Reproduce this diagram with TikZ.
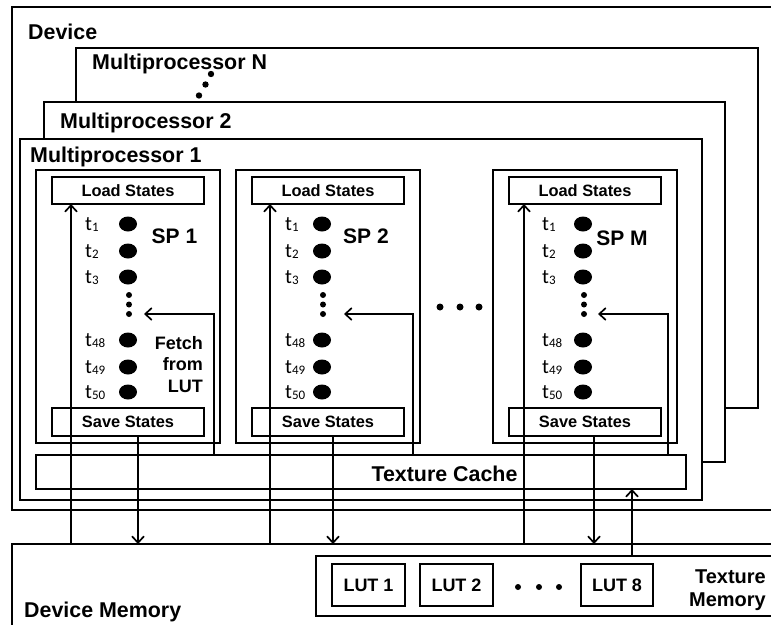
\documentclass[tikz,border=0pt]{standalone}
\usepackage{fontspec}
\setmainfont{Liberation Sans}
\newfontfamily\threadfont{Carlito}
\usetikzlibrary{arrows.meta,calc}
\newcommand\tsub[1]{\raisebox{-1.5pt}{\fontsize{13}{13}\selectfont#1}}

\begin{document}
\begin{tikzpicture}[x=1pt,y=-1pt,
  frame/.style={draw, fill=white, line width=1.8pt, inner sep=0pt, outer sep=0pt, anchor=north west},
  spbox/.style={draw, line width=1.3pt, inner sep=0pt, outer sep=0pt, anchor=north west},
  statebox/.style={draw, line width=1.1pt, inner sep=0pt, outer sep=0pt, anchor=north west,
    font=\bfseries\fontsize{16.4}{19}\selectfont},
  lutbox/.style={draw, line width=1.1pt, inner sep=0pt, outer sep=0pt, anchor=north west,
    minimum width=73pt, minimum height=42pt, font=\bfseries\fontsize{18}{21}\selectfont},
  biglabel/.style={inner sep=0pt, font=\bfseries\fontsize{21.4}{25}\selectfont},
  splabel/.style={inner sep=0pt, anchor=base, font=\bfseries\fontsize{21}{25}\selectfont},
  thread/.style={inner sep=0pt, anchor=base west, font=\threadfont\fontsize{20.5}{22}\selectfont},
  arr/.style={line width=1.8pt, -{Straight Barb[length=6.5pt,width=12pt,line width=1.7pt]}},
  dot/.style={fill=black}
]
\fill[white] (0,0) rectangle (771,624);
\clip (0,0) rectangle (771,624);

% device and the stacked multiprocessors
\node[frame, line width=2pt, minimum width=778pt, minimum height=503pt] (dev) at (12,7) {};
\node[frame, line width=1.6pt, minimum width=682pt, minimum height=360pt] (mpN) at (76,48) {};
\node[frame, line width=1.6pt, minimum width=681pt, minimum height=360pt] (mp2) at (44,102) {};
\node[frame, line width=1.6pt, minimum width=682pt, minimum height=361pt] (mp1) at (20,139) {};

\node[biglabel, anchor=base west] (devlbl) at (28,39) {Device};
\node[biglabel, anchor=base west] (mpNlbl) at (92,69) {Multiprocessor N};
\node[biglabel, anchor=base west] (mp2lbl) at (60,128) {Multiprocessor 2};
\node[biglabel, anchor=base west] (mp1lbl) at (30,162) {Multiprocessor 1};
\foreach \x/\y in {211/74, 205.5/84.5, 199/95.5}
  \fill[dot] (\x,\y) circle[radius=3.2];

% texture cache and memories
\node[spbox, line width=1.5pt, minimum width=650pt, minimum height=34pt] (tc) at (36,455) {};
\node[biglabel, anchor=base] (tclbl) at (444.5,481) {Texture Cache};
\node[frame, line width=2pt, minimum width=778pt, minimum height=100pt] (dm) at (12,544) {};
\node[biglabel, anchor=base west] (dmlbl) at (24,617) {Device Memory};
\node[frame, line width=1.6pt, minimum width=474pt, minimum height=60pt] (tm) at (316,556) {};
\node[biglabel, anchor=base east, align=right, font=\bfseries\fontsize{20}{23}\selectfont] (tmlbl) at (766,606) {Texture\\Memory};
\node[lutbox] (lut1) at (332,564) {LUT 1};
\node[lutbox] (lut2) at (420,564) {LUT 2};
\node[lutbox, minimum width=72pt] (lut8) at (581,564) {LUT 8};
\foreach \x in {518,539,559}
  \fill[dot] (\x,587) circle[radius=3];

% dots between the stream processors
\foreach \x in {440,460,479}
  \fill[dot] (\x,307) circle[radius=3.5];

% stream processors
\foreach \i/\L/\dx/\la/\sa/\fx/\fe/\lab/\lx/\ly in
  {1/36/128/71/138/214/144/SP 1/174.5/243,
   2/236/322/270/333/413/344/SP 2/366/243,
   M/493/583/524/594/668/598/SP M/622/245}
{
  \node[spbox, minimum width=184pt, minimum height=273pt] (sp\i) at (\L,170) {};
  \node[statebox, minimum width=152pt, minimum height=27pt] (ls\i) at (\L+16,177) {Load States};
  \node[statebox, minimum width=152pt, minimum height=28pt] (ss\i) at (\L+16,408) {Save States};
  \node[splabel] (splbl\i) at (\lx,\ly) {\lab};
  \foreach \y/\s in {224/1,251/2,277/3,340/48,367/49,392/50} {
    \node[thread] (t\i-\s) at (\L+49,\y+6) {t\tsub{\s}};
    \fill[dot] (\dx,\y) ellipse[x radius=9, y radius=7.5];
  }
  \foreach \y in {295,304.5,314}
    \fill[dot] (\dx+1,\y) circle[radius=3];
  \coordinate (la\i) at (\la,0);
  \coordinate (sa\i) at (\sa,0);
  \coordinate (fx\i) at (\fx,0);
  \coordinate (fe\i) at (\fe,314);
  \draw[arr] (dm.north -| la\i) -- (ls\i.south -| la\i);
  \draw[arr] (ss\i.south -| sa\i) -- (dm.north -| sa\i);
  \draw[arr] (tc.north -| fx\i) |- (fe\i);
}
\node[inner sep=0pt, anchor=base east, align=right, font=\bfseries\fontsize{18}{21.5}\selectfont] (fetch) at (203,392) {Fetch\\from\\LUT};

% texture memory feeding the texture cache
\coordinate (tmx) at (632,0);
\draw[arr] (tm.north -| tmx) -- (tc.south -| tmx);
\end{tikzpicture}
\end{document}
